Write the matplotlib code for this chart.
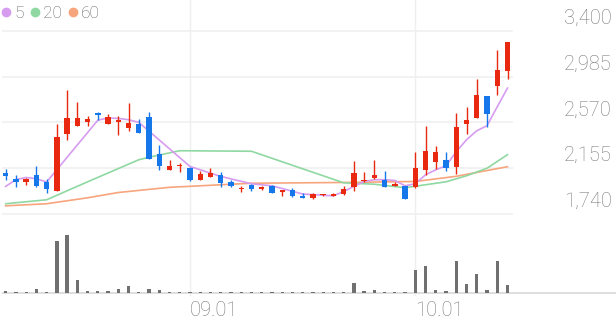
import matplotlib
matplotlib.use("Agg")
import matplotlib.pyplot as plt
import matplotlib.transforms as mtransforms
from matplotlib.lines import Line2D

plt.rcParams['font.family'] = ['Roboto', 'DejaVu Sans']

# daily candles, oldest first
opens = [2111, 2057, 2026, 2093, 2030, 1951, 2468, 2541, 2577, 2656,
         2556, 2577, 2516, 2553, 2620, 2284, 2141, 2171, 2157, 2051,
         2078, 2096, 2032, 1969, 1999, 1969, 1996, 1942, 1960, 1899,
         1887, 1908, 1899, 1923, 1984, 2035, 2071, 2044, 1990, 1996,
         1984, 2141, 2208, 2226, 2162, 2556, 2607, 2813, 2898, 3040]
highs = [2148, 2096, 2066, 2178, 2060, 2556, 2868, 2752, 2632, 2662,
         2643, 2632, 2747, 2602, 2665, 2362, 2232, 2202, 2166, 2126,
         2153, 2117, 2044, 1996, 2014, 1990, 2005, 1960, 1972, 1935,
         1930, 1923, 1930, 1993, 2217, 2117, 2226, 2126, 2032, 1996,
         2302, 2535, 2353, 2305, 2656, 2711, 2968, 2813, 3231, 3301]
lows = [2044, 1984, 2002, 1988, 1930, 1950, 2414, 2535, 2535, 2589,
        2556, 2459, 2489, 2477, 2241, 2141, 2141, 2123, 2035, 2051,
        2078, 1984, 1984, 1944, 1948, 1962, 1930, 1905, 1893, 1887,
        1872, 1903, 1899, 1914, 1948, 2026, 2057, 1984, 1990, 1875,
        1975, 2096, 2148, 2130, 2102, 2465, 2607, 2529, 2822, 2965]
closes = [2084, 2032, 2057, 1990, 1969, 2438, 2613, 2613, 2598, 2638,
          2616, 2589, 2562, 2477, 2241, 2178, 2175, 2184, 2051, 2102,
          2108, 2021, 1990, 1978, 1966, 1984, 1930, 1960, 1899, 1887,
          1917, 1917, 1923, 1964, 2111, 2051, 2090, 1984, 2011, 1875,
          2153, 2314, 2298, 2160, 2525, 2589, 2822, 2650, 3049, 3301]
# thousand shares
volume = [20, 7, 7, 40, 10, 520, 580, 130, 20, 20,
          20, 43, 67, 13, 43, 27, 10, 7, 7, 7,
          10, 7, 7, 7, 7, 7, 7, 7, 7, 7,
          7, 7, 7, 13, 97, 20, 30, 13, 7, 7,
          233, 270, 30, 23, 320, 93, 193, 33, 323, 83]

# moving averages at their vertices
ma5_idx = [0, 1, 2, 3, 4, 9, 10, 11, 12, 13, 18, 21, 24, 26, 29, 32, 33,
           34, 35, 36, 37, 38, 39, 40, 41, 42, 43, 44, 45, 46, 47, 48, 49]
ma5 = [1990, 2052, 2071, 2060, 2030, 2591, 2611, 2607, 2595, 2571, 2171,
       2081, 2014, 1996, 1921, 1905, 1944, 1990, 2035, 2051, 2051, 2044,
       1996, 2014, 2096, 2141, 2178, 2305, 2414, 2495, 2541, 2713, 2882]
ma20_idx = [0, 4, 8, 13, 14, 17, 24, 33, 36, 39, 40, 43, 45, 47, 49]
ma20 = [1833, 1869, 2032, 2232, 2255, 2314, 2309, 2023, 2010, 1978, 1992,
        2032, 2087, 2155, 2278]
ma60_idx = [0, 4, 8, 11, 16, 24, 33, 40, 44, 49]
ma60 = [1814, 1833, 1887, 1935, 1982, 2019, 2026, 2035, 2082, 2169]

price_ticks = [1740, 2155, 2570, 2985, 3400]
date_idx = [18, 40]
date_labels = ["09.01", "10.01"]

RED = "#e8290f"
BLUE = "#1677ea"
GREY_TXT = "#7a7a7a"

W, H = 616, 321
fig = plt.figure(figsize=(W / 100, H / 100), dpi=100)
left, right = 2.7 / W, 511.7 / W
ax = fig.add_axes([left, 1 - 214 / H, right - left, 214 / H])
axv = fig.add_axes([left, 1 - 293 / H, right - left, 79 / H])

x = list(range(len(closes)))
xlim = (-0.29, 49.41)

# price panel
for t in price_ticks:
    ax.axhline(t, color="#f1f1f1", lw=1.3, zorder=0, clip_on=False)
for d in date_idx:
    ax.axvline(d, color="#efefef", lw=1.0, zorder=0)
    axv.axvline(d, ymin=-0.03, color="#efefef", lw=1.0, zorder=0, clip_on=False)

ax.plot(ma60_idx, ma60, color="#f7a57d", lw=1.2, zorder=1)
ax.plot(ma20_idx, ma20, color="#8fd8a2", lw=1.2, zorder=1)
ax.plot(ma5_idx, ma5, color="#d69cf0", lw=1.2, zorder=1)

cols = [RED if c >= o else BLUE for o, c in zip(opens, closes)]
ax.vlines(x, lows, highs, colors=cols, lw=1.0, zorder=2)
bodies = [max(abs(c - o), 8) for o, c in zip(opens, closes)]
ax.bar(x, bodies, bottom=[min(o, c) for o, c in zip(opens, closes)],
       width=0.52, color=cols, zorder=3)

ax.set_xlim(*xlim)
ax.set_ylim(1740, 3681)
ax.axis("off")

# price labels sit just above their grid line, right aligned
lab_tr = mtransforms.blended_transform_factory(fig.transFigure, ax.transData) + \
    mtransforms.ScaledTranslation(0, 7 / 100, fig.dpi_scale_trans)
for t in price_ticks:
    ax.text(612 / W, t, f"{t:,}", transform=lab_tr, ha="right", va="baseline",
            fontsize=14.5, color=GREY_TXT, fontweight="light")

# volume panel
axv.bar(x, volume, width=0.32, color="#707070", zorder=2)
axv.axhline(0, xmin=0, xmax=(616 - 2.7) / (511.7 - 2.7), color="#dedede",
            lw=1.4, clip_on=False, zorder=1)
axv.set_xlim(*xlim)
axv.set_ylim(0, max(volume) * 79 / 58)
axv.axis("off")

date_tr = mtransforms.blended_transform_factory(axv.transData, fig.transFigure)
for d, lab in zip(date_idx, date_labels):
    axv.text(d, 4.5 / H, lab, transform=date_tr, ha="left", va="baseline",
             fontsize=14.5, color=GREY_TXT, fontweight="light")

# legend
handles = [Line2D([], [], ls="", marker="o", ms=6, color=c)
           for c in ("#d69cf0", "#8fd8a2", "#f7a57d")]
fig.legend(handles, ["5", "20", "60"], loc="upper left",
           bbox_to_anchor=(0.0, 1 - 4 / H), ncol=3, frameon=False,
           handlelength=0.5, handletextpad=0.25, columnspacing=0.35,
           borderpad=0.1, borderaxespad=0, prop={"size": 12.5, "weight": "light"},
           labelcolor="#666666")

fig.savefig("out.png", dpi=100)
